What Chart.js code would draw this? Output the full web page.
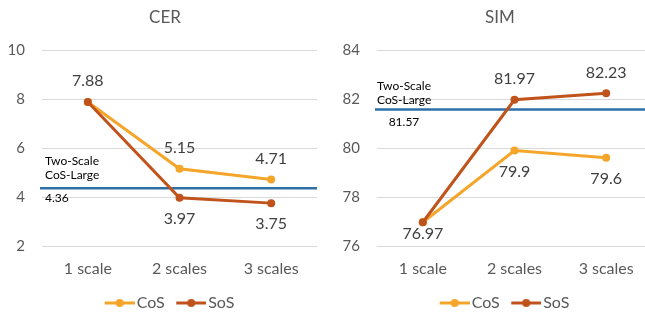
<!DOCTYPE html>
<html><head><meta charset="utf-8">
<script src="https://cdn.jsdelivr.net/npm/chart.js@4"></script>
<style>
html,body{margin:0;padding:0;background:#fff;overflow:hidden;width:645px;height:313px;position:relative;}
.box{position:absolute;top:0;height:321px;width:322px;}
#b1{left:0}
#b2{left:335px}
</style></head><body>
<div class="box" id="b1"><canvas id="c1"></canvas></div>
<div class="box" id="b2"><canvas id="c2"></canvas></div>
<script>
const categories = ['1 scale', '2 scales', '3 scales'];
const seriesNames = ['CoS', 'SoS'];
const cerCoS = [7.88, 5.15, 4.71];
const cerSoS = [7.88, 3.97, 3.75];
const simCoS = [76.97, 79.9, 79.6];
const simSoS = [76.97, 81.97, 82.23];
const cerTicks = [2, 4, 6, 8, 10];
const simTicks = [76, 78, 80, 82, 84];
const cerBaseline = 4.36;
const simBaseline = 81.57;
const baselineLabel = ['Two-Scale', 'CoS-Large'];

const ORANGE = '#F4A52A';
const DARK = '#C0531B';
const BLUE = '#2E6FA8';
const TXT = '#595959';
const FONT = 'Lato';

// let y tick labels overflow the (narrow) axis box instead of being clipped
const LinearScale = Chart.registry.getScale('linear');
LinearScale.prototype._computeLabelArea = function(){ return undefined; };

function legendIcon(color){
  const c = document.createElement('canvas');
  c.width = 45; c.height = 10;
  const g = c.getContext('2d');
  g.strokeStyle = color; g.lineWidth = 3;
  g.beginPath(); g.moveTo(15, 5); g.lineTo(45, 5); g.stroke();
  g.fillStyle = color;
  g.beginPath(); g.arc(30, 5, 4, 0, Math.PI * 2); g.fill();
  return c;
}
const icons = [legendIcon(ORANGE), legendIcon(DARK)];

const valueLabels = {
  id: 'valueLabels',
  afterDatasetsDraw(chart, args, opts){
    const ctx = chart.ctx, area = chart.chartArea;
    ctx.save();
    ctx.font = '16px ' + FONT;
    ctx.fillStyle = '#404040';
    ctx.textAlign = 'center';
    ctx.textBaseline = 'middle';
    chart.data.datasets.forEach((ds, di) => {
      const meta = chart.getDatasetMeta(di);
      meta.data.forEach((pt, i) => {
        const v = ds.data[i];
        for (let k = 0; k < di; k++) { if (chart.data.datasets[k].data[i] === v) return; }
        const above = opts.positions[di] === 'above';
        let y = pt.y + (above ? -opts.offset : opts.offset);
        const half = 8;
        if (y + half > area.bottom - 4) y = area.bottom - 4 - half;
        ctx.fillText(String(v), pt.x, y);
      });
    });
    ctx.restore();
  }
};

const baseline = {
  id: 'baseline',
  beforeDatasetsDraw(chart, args, opts){
    const ctx = chart.ctx, a = chart.chartArea;
    const y = chart.scales.y.getPixelForValue(opts.value);
    ctx.save();
    ctx.strokeStyle = BLUE; ctx.lineWidth = 2.5;
    ctx.beginPath(); ctx.moveTo(a.left - 2, y); ctx.lineTo(a.right, y); ctx.stroke();
    ctx.fillStyle = '#000';
    ctx.font = '12px ' + FONT;
    ctx.textBaseline = 'middle';
    ctx.textAlign = 'left';
    const x0 = a.left + opts.dx;
    ctx.fillText(baselineLabel[0], x0, y + opts.t1);
    ctx.fillText(baselineLabel[1], x0, y + opts.t2);
    if (opts.valueAlign === 'center') {
      const w = ctx.measureText(baselineLabel[0]).width;
      ctx.textAlign = 'center';
      ctx.fillText(String(opts.value), x0 + w / 2, y + opts.t3);
    } else {
      ctx.fillText(String(opts.value), x0, y + opts.t3);
    }
    ctx.restore();
  }
};

function makeChart(id, co, so, ticks, base, title, labelPos, baseOpts){
  return new Chart(document.getElementById(id), {
    type: 'line',
    data: {
      labels: categories,
      datasets: [
        { label: seriesNames[0], data: co, borderColor: ORANGE, backgroundColor: ORANGE,
          pointBackgroundColor: ORANGE, pointBorderColor: ORANGE, borderWidth: 3,
          pointRadius: 4, pointBorderWidth: 0, order: 2, tension: 0 },
        { label: seriesNames[1], data: so, borderColor: DARK, backgroundColor: DARK,
          pointBackgroundColor: DARK, pointBorderColor: DARK, borderWidth: 3,
          pointRadius: 4, pointBorderWidth: 0, order: 1, tension: 0 }
      ]
    },
    options: {
      responsive: true, maintainAspectRatio: false, animation: false,
      layout: { padding: { left: 13, right: 5, top: 0, bottom: 0 } },
      plugins: {
        title: { display: true, text: title, color: TXT, font: { family: FONT, size: 17, weight: 'normal' },
                 padding: { top: 7.8, bottom: 21.8 } },
        legend: {
          position: 'bottom',
          labels: {
            usePointStyle: true, pointStyleWidth: 33, padding: 2.5, color: TXT,
            font: { family: FONT, size: 16 },
            sort: (a, b) => a.datasetIndex - b.datasetIndex,
            generateLabels(chart){
              const items = Chart.defaults.plugins.legend.labels.generateLabels(chart);
              items.forEach(it => { it.pointStyle = icons[it.datasetIndex]; });
              return items;
            }
          }
        },
        tooltip: { enabled: false },
        valueLabels: { positions: labelPos, offset: 21 },
        baseline: Object.assign({ value: base }, baseOpts)
      },
      scales: {
        x: {
          offset: true,
          grid: { display: false, drawTicks: false },
          border: { display: false },
          ticks: { color: TXT, font: { family: FONT, size: 16 }, padding: 13 },
          afterFit(s){ s.height = 46.5; }
        },
        y: {
          min: ticks[0], max: ticks[ticks.length - 1],
          grid: { color: '#D9D9D9', drawTicks: false, lineWidth: 1 },
          border: { display: false },
          ticks: { color: TXT, font: { family: FONT, size: 15 }, padding: 17 },
          afterBuildTicks(s){ s.ticks = ticks.map(v => ({ value: v })); },
          afterFit(s){ s.width = 29; }
        }
      }
    },
    plugins: [valueLabels, baseline]
  });
}

makeChart('c1', cerCoS, cerSoS, cerTicks, cerBaseline, 'CER', ['above', 'below'],
  { dx: 3, t1: -27, t2: -13, t3: 10, valueAlign: 'left' });
makeChart('c2', simCoS, simSoS, simTicks, simBaseline, 'SIM', ['below', 'above'],
  { dx: 0, t1: -23, t2: -9, t3: 13, valueAlign: 'center' });
</script>
</body></html>
